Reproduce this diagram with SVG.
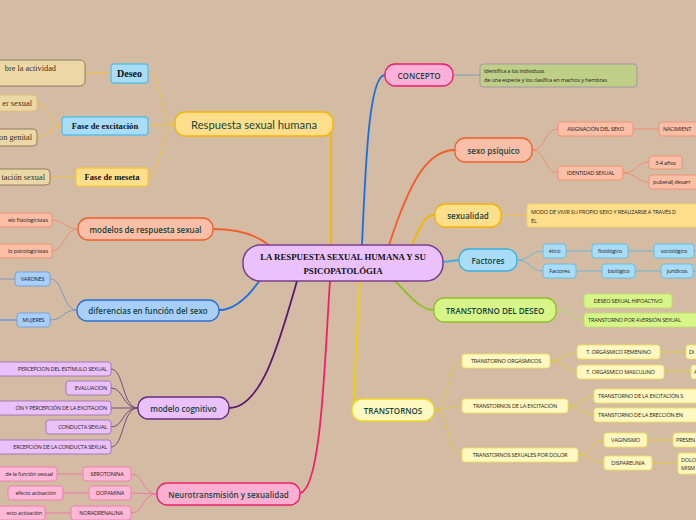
<svg xmlns="http://www.w3.org/2000/svg" width="696" height="520" viewBox="0 0 696 520">
<style>
.m{font-family:"Open Sans","Noto Sans",sans-serif;font-size:8px;font-weight:600;fill:#17443a;text-anchor:middle;dominant-baseline:central}
.s{font-family:"Open Sans","Noto Sans",sans-serif;font-size:5.6px;fill:#2a1c16;letter-spacing:-0.2px;dominant-baseline:central}
.c{text-anchor:middle}
.e{text-anchor:end}
.b{font-family:"Liberation Serif",serif;font-weight:bold;fill:#111;text-anchor:middle;dominant-baseline:central}
.t{font-family:"Liberation Serif",serif;font-size:8.3px;fill:#3a3020;dominant-baseline:central;text-anchor:end}
.cn path{fill:none}
.mn{stroke-width:1.3}
.sm{stroke-width:0.9}
</style>
<rect x="0" y="0" width="696" height="520" fill="#d4bba3"/>

<g class="cn">
  <path d="M333,123 Q331,123 331,135 L331,245" stroke="#f5b500" stroke-width="1.8"/>
  <path d="M362,245 C366,150 370,75 385,75" stroke="#1a6fe0" stroke-width="1.8"/>
  <path d="M389,245 C410,180 428,150 455,150" stroke="#f0602e" stroke-width="1.8"/>
  <path d="M412,245 C422,222 425,215 435,215" stroke="#f5b500" stroke-width="1.8"/>
  <path d="M443,262 L459,260" stroke="#40aee0" stroke-width="1.8"/>
  <path d="M395,281 C410,296 420,310 434,310" stroke="#8fc02a" stroke-width="1.8"/>
  <path d="M360,281 C357,340 352,400 356,410" stroke="#f0d000" stroke-width="1.8"/>
  <path d="M330,281 C325,350 322,490 300,493" stroke="#f0206a" stroke-width="1.8"/>
  <path d="M297,281 C280,340 262,408 229,408" stroke="#5a1a70" stroke-width="1.8"/>
  <path d="M262,277 C250,295 236,310 219,310" stroke="#1a6fe0" stroke-width="1.8"/>
  <path d="M213,229 C240,229 258,236 270,246" stroke="#f0602e" stroke-width="1.8"/>

  <g stroke="#f0c040" stroke-width="1">
    <path d="M175,124 C160,124 162,73 148,73"/>
    <path d="M175,124 L148,126"/>
    <path d="M175,124 C160,124 162,177 148,177"/>
    <path d="M111,73 L85,73"/>
    <path d="M62,126 C50,126 47,103 37,103"/>
    <path d="M62,126 C50,126 47,137 37,137"/>
    <path d="M76,177 L50,177"/>
  </g>
  <g stroke="#f09070" stroke-width="1">
    <path d="M78,229 C65,229 64,220 52,220"/>
    <path d="M78,229 C65,229 64,251 52,251"/>
  </g>
  <g stroke="#7a98c0" stroke-width="1">
    <path d="M77,310 C62,310 64,279 50,279"/>
    <path d="M77,310 C62,310 64,320 50,320"/>
    <path d="M0,279 L15,279" stroke="#9aa4b4" stroke-width="1.5"/>
    <path d="M0,320 L17,320" stroke="#6a9ad8" stroke-width="1.5"/>
  </g>
  <g stroke="#7a4a80" stroke-width="1">
    <path d="M138,408 C122,408 124,369 111,369"/>
    <path d="M138,408 C122,408 124,388 111,388"/>
    <path d="M138,408 L111,408"/>
    <path d="M138,408 C122,408 124,427 111,427"/>
    <path d="M138,408 C122,408 124,447 111,447"/>
  </g>
  <g stroke="#f07aa8" stroke-width="1">
    <path d="M157,494 C142,494 144,474 131,474"/>
    <path d="M157,494 L131,493"/>
    <path d="M157,494 C142,494 144,513 131,513"/>
    <path d="M83,474 L57,474"/>
    <path d="M89,493 L63,493"/>
    <path d="M71,513 L45,513"/>
  </g>

  <path d="M453,75 L480,75" stroke="#7a9ac0" stroke-width="1"/>
  <g stroke="#f09070" stroke-width="1">
    <path d="M532,150 C546,150 544,129 558,129"/>
    <path d="M532,150 C546,150 544,173 558,173"/>
    <path d="M633,129 L659,129"/>
    <path d="M623,173 C637,173 636,162 649,162"/>
    <path d="M623,173 C637,173 636,182 649,182"/>
  </g>
  <path d="M501,215 L527,215" stroke="#f5c040" stroke-width="1"/>
  <g stroke="#6ab8d8" stroke-width="1">
    <path d="M517,260 C530,260 530,251 543,251"/>
    <path d="M517,260 C530,260 530,271 543,271"/>
    <path d="M566,251 L592,251"/>
    <path d="M628,251 L654,251"/>
    <path d="M694,251 L696,251"/>
    <path d="M576,271 L602,271"/>
    <path d="M635,271 L661,271"/>
    <path d="M693,271 L696,271"/>
  </g>
  <g stroke="#b8d870" stroke-width="1">
    <path d="M556,310 C570,310 570,301 584,301"/>
    <path d="M556,310 C570,310 570,320 584,320"/>
  </g>
  <g stroke="#e0c840" stroke-width="1">
    <path d="M434,410 C450,410 446,361 462,361"/>
    <path d="M434,410 C448,410 448,406 462,406"/>
    <path d="M434,410 C450,410 446,455 462,455"/>
    <path d="M550,361 C564,361 563,352 577,352"/>
    <path d="M550,361 C564,361 563,371 577,371"/>
    <path d="M660,352 L686,352"/>
    <path d="M664,371 L691,371"/>
    <path d="M568,406 C581,406 581,396 594,396"/>
    <path d="M568,406 C581,406 581,415 594,415"/>
    <path d="M578,455 C591,455 591,440 604,440"/>
    <path d="M578,455 C591,455 591,463 604,463"/>
    <path d="M647,440 L673,440"/>
    <path d="M652,463 L678,463"/>
  </g>
</g>

<g id="central">
  <rect x="243" y="245" width="200" height="36" rx="17" fill="#ebc1fb" stroke="#7b3d8f" stroke-width="1.5"/>
  <text class="b" x="343" y="257" font-size="8.8">LA RESPUESTA SEXUAL HUMANA Y SU</text>
  <text class="b" x="343" y="270.5" font-size="8.8">PSICOPATOLÓGIA</text>
</g>

<g id="respuesta">
  <rect x="175" y="112" width="158" height="24" rx="10" fill="#ffdf8c" stroke="#f5b500" class="mn"/>
  <text x="254" y="124" font-family="Lato,'Open Sans',sans-serif" font-weight="400" font-size="11.5" fill="#17443a" text-anchor="middle" dominant-baseline="central" textLength="126" lengthAdjust="spacingAndGlyphs">Respuesta sexual humana</text>
</g>
<g id="deseo">
  <rect x="111" y="64" width="37" height="19" rx="3" fill="#a8dcf7" stroke="#5bbfe8" class="mn"/>
  <text class="b" x="129.5" y="73.5" font-size="10">Deseo</text>
</g>
<g id="fase-excitacion">
  <rect x="62" y="117" width="86" height="18" rx="3" fill="#a8dcf7" stroke="#5bbfe8" class="mn"/>
  <text class="b" x="105" y="126" font-size="8.6">Fase de excitación</text>
</g>
<g id="fase-meseta">
  <rect x="76" y="168" width="72" height="18" rx="3" fill="#ffdf8c" stroke="#f5c842" class="mn"/>
  <text class="b" x="112" y="177" font-size="8.6">Fase de meseta</text>
</g>
<g id="leaf-actividad">
  <rect x="-10" y="60" width="95" height="26" rx="5" fill="#ecd8a6" stroke="#857658" class="sm"/>
  <text class="t" x="56" y="68.5">bre la actividad</text>
</g>
<g id="leaf-placer">
  <rect x="-10" y="95" width="47" height="16" rx="4" fill="#ecd8a6" stroke="#e0c070" class="sm"/>
  <text class="t" x="32" y="103">er sexual</text>
</g>
<g id="leaf-genital">
  <rect x="-10" y="129" width="47" height="17" rx="4" fill="#ecd8a6" stroke="#857658" class="sm"/>
  <text class="t" x="32" y="137.5">on genital</text>
</g>
<g id="leaf-meseta">
  <rect x="-10" y="169" width="60" height="16" rx="4" fill="#ecd8a6" stroke="#857658" class="sm"/>
  <text class="t" x="45" y="177">tación sexual</text>
</g>

<g id="modelos">
  <rect x="78" y="218" width="135" height="22" rx="10" fill="#fbbea6" stroke="#f0602e" class="mn"/>
  <text class="m" x="145.5" y="229">modelos de respuesta sexual</text>
</g>
<g id="fisiologicistas">
  <rect x="-10" y="213" width="62" height="14" rx="3" fill="#fbbea6" stroke="#f09070" class="sm"/>
  <text class="s e" x="48" y="220">elo fisiologicistas</text>
</g>
<g id="psicologicistas">
  <rect x="-10" y="244" width="62" height="14" rx="3" fill="#fbbea6" stroke="#f09070" class="sm"/>
  <text class="s e" x="48" y="251">lo psicologicistas</text>
</g>

<g id="diferencias">
  <rect x="77" y="300" width="142" height="21" rx="10" fill="#a8cffa" stroke="#2a6fd6" class="mn"/>
  <text class="m" x="148" y="310.5">diferencias en función del sexo</text>
</g>
<g id="varones">
  <rect x="15" y="272" width="35" height="14" rx="3" fill="#a8cffa" stroke="#6fa0e0" class="sm"/>
  <text class="s c" x="32.5" y="279">VARONES</text>
</g>
<g id="mujeres">
  <rect x="17" y="313" width="33" height="14" rx="3" fill="#a8cffa" stroke="#6fa0e0" class="sm"/>
  <text class="s c" x="33.5" y="320">MUJERES</text>
</g>

<g id="modelo-cognitivo">
  <rect x="138" y="397" width="91" height="22" rx="10" fill="#ebc1fb" stroke="#6a2a80" class="mn"/>
  <text class="m" x="183.5" y="408">modelo cognitivo</text>
</g>
<g id="mc1">
  <rect x="-3" y="362" width="114" height="14" rx="3" fill="#ebc1fb" stroke="#a070b8" class="sm"/>
  <text class="s e" x="107" y="369">PERCEPCION DEL ESTÍMULO SEXUAL</text>
</g>
<g id="mc2">
  <rect x="66" y="381" width="45" height="14" rx="3" fill="#ebc1fb" stroke="#a070b8" class="sm"/>
  <text class="s e" x="107" y="388">EVALUACIÓN</text>
</g>
<g id="mc3">
  <rect x="-10" y="401" width="121" height="14" rx="3" fill="#ebc1fb" stroke="#a070b8" class="sm"/>
  <text class="s e" x="107" y="408">ÓN Y PERCEPCIÓN DE LA EXCITACIÓN</text>
</g>
<g id="mc4">
  <rect x="46" y="420" width="65" height="14" rx="3" fill="#ebc1fb" stroke="#a070b8" class="sm"/>
  <text class="s e" x="107" y="427">CONDUCTA SEXUAL</text>
</g>
<g id="mc5">
  <rect x="-10" y="440" width="121" height="14" rx="3" fill="#ebc1fb" stroke="#a070b8" class="sm"/>
  <text class="s e" x="107" y="447">ERCEPCIÓN DE LA CONDUCTA SEXUAL</text>
</g>

<g id="neuro">
  <rect x="157" y="483" width="143" height="22" rx="10" fill="#ffb0d2" stroke="#e8206a" class="mn"/>
  <text class="m" x="228.5" y="494">Neurotransmisión y sexualidad</text>
</g>
<g id="serotonina">
  <rect x="83" y="467" width="48" height="14" rx="3" fill="#ffb8d8" stroke="#f07aa8" class="sm"/>
  <text class="s c" x="107" y="474">SEROTONINA</text>
</g>
<g id="dopamina">
  <rect x="89" y="486" width="42" height="14" rx="3" fill="#ffb8d8" stroke="#f07aa8" class="sm"/>
  <text class="s c" x="110" y="493">DOPAMINA</text>
</g>
<g id="noradrenalina">
  <rect x="71" y="506" width="60" height="14" rx="3" fill="#ffb8d8" stroke="#f07aa8" class="sm"/>
  <text class="s c" x="101" y="513">NORADRENALINA</text>
</g>
<g id="n-leaf1">
  <rect x="-10" y="467" width="67" height="14" rx="3" fill="#ffb8d8" stroke="#f07aa8" class="sm"/>
  <text class="s e" x="53" y="474">de la función sexual</text>
</g>
<g id="n-leaf2">
  <rect x="8" y="486" width="55" height="14" rx="3" fill="#ffb8d8" stroke="#f07aa8" class="sm"/>
  <text class="s c" x="35.5" y="493">efecto activación</text>
</g>
<g id="n-leaf3">
  <rect x="-10" y="506" width="55" height="14" rx="3" fill="#ffb8d8" stroke="#f07aa8" class="sm"/>
  <text class="s e" x="42" y="513">ecto activación</text>
</g>

<g id="concepto">
  <rect x="385" y="64" width="68" height="22" rx="10" fill="#ffb0d8" stroke="#e8206a" class="mn"/>
  <text class="m" x="419" y="75">CONCEPTO</text>
</g>
<g id="concepto-def">
  <rect x="480" y="64" width="157" height="23" rx="3" fill="#bfcf88" stroke="#a092a6" class="sm"/>
  <text class="s" x="484" y="71" fill="#1a1a10" font-size="6.2">Identifica a los individuos</text>
  <text class="s" x="484" y="80" fill="#1a1a10" font-size="6.2">de una especie y los clasifica en machos y hembras</text>
</g>

<g id="sexo-psiquico">
  <rect x="455" y="138" width="77" height="24" rx="10" fill="#fbbea6" stroke="#f0602e" class="mn"/>
  <text class="m" x="493.5" y="150">sexo psíquico</text>
</g>
<g id="asignacion">
  <rect x="558" y="122" width="75" height="14" rx="3" fill="#fbbea6" stroke="#f09070" class="sm"/>
  <text class="s c" x="595.5" y="129">ASIGNACIÓN DEL SEXO</text>
</g>
<g id="nacimiento">
  <rect x="659" y="122" width="60" height="14" rx="3" fill="#fbbea6" stroke="#f09070" class="sm"/>
  <text class="s" x="663" y="129">NACIMIENT</text>
</g>
<g id="identidad">
  <rect x="558" y="166" width="65" height="14" rx="3" fill="#fbbea6" stroke="#f09070" class="sm"/>
  <text class="s c" x="590.5" y="173">IDENTIDAD SEXUAL</text>
</g>
<g id="anos">
  <rect x="649" y="156" width="33" height="13" rx="3" fill="#fbbea6" stroke="#f09070" class="sm"/>
  <text class="s c" x="665.5" y="162.5">3-4 años</text>
</g>
<g id="puberal">
  <rect x="649" y="175" width="60" height="14" rx="3" fill="#fbbea6" stroke="#f09070" class="sm"/>
  <text class="s" x="653" y="182">puberal( desarr</text>
</g>

<g id="sexualidad">
  <rect x="435" y="204" width="66" height="23" rx="10" fill="#ffdf8c" stroke="#f5b500" class="mn"/>
  <text class="m" x="468" y="215.5">sexualidad</text>
</g>
<g id="sexualidad-def">
  <rect x="527" y="204" width="190" height="23" rx="3" fill="#ffdf8c" stroke="#f5d060" class="sm"/>
  <text class="s" x="531" y="211.5" font-size="5.7" letter-spacing="-0.2">MODO DE VIVIR SU PROPIO SEXO Y REALIZARSE A TRAVÉS D</text>
  <text class="s" x="531" y="221" font-size="5.7">ÉL</text>
</g>

<g id="factores">
  <rect x="459" y="249" width="58" height="22" rx="10" fill="#a8dcf7" stroke="#3ab0e0" class="mn"/>
  <text class="m" x="488" y="260">Factores</text>
</g>
<g id="etico">
  <rect x="543" y="244" width="23" height="14" rx="3" fill="#a8dcf7" stroke="#5bbfe8" class="sm"/>
  <text class="s c" x="554.5" y="251">ético</text>
</g>
<g id="fisiologico">
  <rect x="592" y="244" width="36" height="14" rx="3" fill="#a8dcf7" stroke="#5bbfe8" class="sm"/>
  <text class="s c" x="610" y="251">fisiológico</text>
</g>
<g id="sociologico">
  <rect x="654" y="244" width="40" height="14" rx="3" fill="#a8dcf7" stroke="#5bbfe8" class="sm"/>
  <text class="s c" x="674" y="251">sociológico</text>
</g>
<g id="factores2">
  <rect x="543" y="264" width="33" height="14" rx="3" fill="#a8dcf7" stroke="#5bbfe8" class="sm"/>
  <text class="s c" x="559.5" y="271">Factores</text>
</g>
<g id="biologico">
  <rect x="602" y="264" width="33" height="14" rx="3" fill="#a8dcf7" stroke="#5bbfe8" class="sm"/>
  <text class="s c" x="618.5" y="271">biológico</text>
</g>
<g id="juridicos">
  <rect x="661" y="264" width="32" height="14" rx="3" fill="#a8dcf7" stroke="#5bbfe8" class="sm"/>
  <text class="s c" x="677" y="271">jurídicos</text>
</g>

<g id="transtorno-deseo">
  <rect x="434" y="298" width="122" height="24" rx="10" fill="#d8f58a" stroke="#8fc02a" class="mn"/>
  <text class="m" x="495" y="310">TRANSTORNO DEL DESEO</text>
</g>
<g id="hipoactivo">
  <rect x="584" y="294" width="88" height="14" rx="3" fill="#d8f58a" stroke="#c0e070" class="sm"/>
  <text class="s c" x="628" y="301">DESEO SEXUAL HIPOACTIVO</text>
</g>
<g id="aversion">
  <rect x="584" y="313" width="120" height="14" rx="3" fill="#d8f58a" stroke="#c0e070" class="sm"/>
  <text class="s" x="588" y="320">TRANSTORNO POR AVERSIÓN SEXUAL</text>
</g>

<g id="transtornos">
  <rect x="352" y="399" width="82" height="22" rx="10" fill="#fff8c0" stroke="#f0d820" class="mn"/>
  <text class="m" x="393" y="410">TRANSTORNOS</text>
</g>
<g id="orgasmicos">
  <rect x="462" y="354" width="88" height="14" rx="3" fill="#fff8c0" stroke="#f0e060" class="sm"/>
  <text class="s c" x="506" y="361">TRANSTORNO ORGÁSMICOS</text>
</g>
<g id="excitacion">
  <rect x="462" y="399" width="106" height="14" rx="3" fill="#fff8c0" stroke="#f0e060" class="sm"/>
  <text class="s c" x="515" y="406">TRANSTORNOS DE LA EXCITACIÓN</text>
</g>
<g id="dolor">
  <rect x="462" y="448" width="116" height="14" rx="3" fill="#fff8c0" stroke="#f0e060" class="sm"/>
  <text class="s c" x="520" y="455">TRANSTORNOS SEXUALES POR DOLOR</text>
</g>
<g id="femenino">
  <rect x="577" y="345" width="83" height="14" rx="3" fill="#fff8c0" stroke="#f0e060" class="sm"/>
  <text class="s c" x="618.5" y="352">T. ORGÁSMICO FEMENINO</text>
</g>
<g id="femenino-leaf">
  <rect x="686" y="345" width="30" height="14" rx="3" fill="#fff8c0" stroke="#f0e060" class="sm"/>
  <text class="s" x="689" y="352">DI</text>
</g>
<g id="masculino">
  <rect x="577" y="365" width="87" height="14" rx="3" fill="#fff8c0" stroke="#f0e060" class="sm"/>
  <text class="s c" x="620.5" y="372">T. ORGÁSMICO MASCULINO</text>
</g>
<g id="masculino-leaf">
  <rect x="691" y="365" width="30" height="14" rx="3" fill="#fff8c0" stroke="#f0e060" class="sm"/>
  <text class="s" x="694" y="372">A</text>
</g>
<g id="excitacion-s">
  <rect x="594" y="389" width="120" height="14" rx="3" fill="#fff8c0" stroke="#f0e060" class="sm"/>
  <text class="s" x="598" y="396">TRANSTORNO DE LA EXCITACIÓN S</text>
</g>
<g id="ereccion">
  <rect x="594" y="408" width="120" height="14" rx="3" fill="#fff8c0" stroke="#f0e060" class="sm"/>
  <text class="s" x="598" y="415">TRANSTORNO DE LA ERECCIÓN EN</text>
</g>
<g id="vaginismo">
  <rect x="604" y="433" width="43" height="14" rx="3" fill="#fff8c0" stroke="#f0e060" class="sm"/>
  <text class="s c" x="625.5" y="440">VAGINISMO</text>
</g>
<g id="presencia">
  <rect x="673" y="433" width="40" height="14" rx="3" fill="#fff8c0" stroke="#f0e060" class="sm"/>
  <text class="s" x="676" y="440">PRESEN</text>
</g>
<g id="dispareunia">
  <rect x="604" y="456" width="48" height="14" rx="3" fill="#fff8c0" stroke="#f0e060" class="sm"/>
  <text class="s c" x="628" y="463">DISPAREUNIA</text>
</g>
<g id="dolor-leaf">
  <rect x="678" y="453" width="40" height="21" rx="3" fill="#fff8c0" stroke="#f0e060" class="sm"/>
  <text class="s" x="681" y="459.5">DOLO</text>
  <text class="s" x="681" y="468">MISM</text>
</g>
</svg>
